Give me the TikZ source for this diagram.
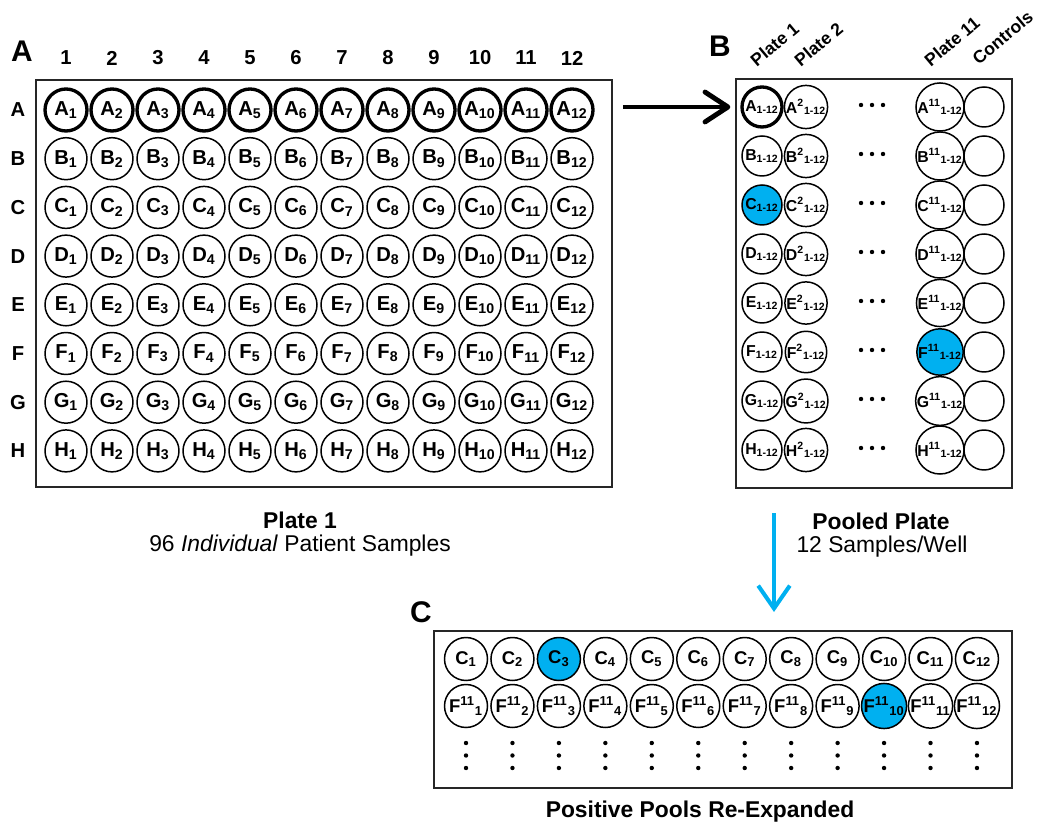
\documentclass[tikz,border=0pt]{standalone}
\usepackage{fontspec}
\setmainfont{Liberation Sans}
\usetikzlibrary{arrows.meta,calc,fit}
\definecolor{poolblue}{RGB}{0,176,240}
\tikzset{
  well/.style={circle, draw, line width=0.85pt, fill=white, minimum size=0.84cm, inner sep=0pt,
    font=\fontsize{11.5}{12}\selectfont\bfseries},
  thickwell/.style={well, line width=1.9pt},
  pwell/.style={well, minimum size=0.80cm, font=\fontsize{9}{10}\selectfont\bfseries},
  pthick/.style={pwell, line width=1.9pt},
  phit/.style={pwell, fill=poolblue},
  cwell/.style={well, minimum size=0.86cm, font=\fontsize{10.5}{12}\selectfont\bfseries},
  chit/.style={cwell, fill=poolblue},
  platebox/.style={draw=black!85, line width=1.1pt, inner sep=0pt},
  panel/.style={font=\fontsize{17}{18}\selectfont\bfseries},
  axislab/.style={font=\fontsize{11.5}{12}\selectfont\bfseries},
  headlab/.style={font=\fontsize{10}{11}\selectfont\bfseries, rotate=40, anchor=south west, inner sep=0pt},
  caption/.style={font=\fontsize{13}{14}\selectfont}
}

\begin{document}
\begin{tikzpicture}[x=0.02cm, y=-0.02cm]
		%%%%% START %%%%%
		\useasboundingbox (0,0) rectangle (1040,830);
		
		% plate 1
		\node[platebox, fit={(36,80) (612,487)}] (plateA) {};
		\node[panel] (labA) at (22,51) {A};
		\foreach \c in {1,...,12}
			\node[axislab] (num\c) at ({66+46*(\c-1)},58) {\c};
		\foreach \r [count=\i] in {A,...,H}
			\node[axislab] (row\r) at (18,{110+48.7*(\i-1)}) {\r};
		\foreach \c in {1,...,12}
			\node[thickwell] (A-A-\c) at ({66+46*(\c-1)},110) {A\textsubscript{\c}};
		\foreach \r [count=\i from 2] in {B,...,H}
			\foreach \c in {1,...,12}
				\node[well] (A-\r-\c) at ({66+46*(\c-1)},{110+48.7*(\i-1)}) {\r\textsubscript{\c}};
		
		\node[caption, font=\fontsize{13}{14}\selectfont\bfseries] (capA) at (300,520) {Plate 1};
		\node[caption] (capA2) at (300,546) {96 \textit{Individual} Patient Samples};
		
		% pooled plate
		\node[platebox, fit={(736,79) (1012,488)}] (plateB) {};
		\node[panel] (labB) at (720,46) {B};
		\node[headlab] (hd1) at (757,68) {Plate 1};
		\node[headlab] (hd2) at (801,68) {Plate 2};
		\node[headlab] (hd11) at (931,68) {Plate 11};
		\node[headlab] (hdc) at (979,66) {Controls};
		\foreach \r/\sa/\sb [count=\i] in {A/pthick/pwell, B/pwell/pwell, C/phit/pwell, D/pwell/pwell,
				E/pwell/pwell, F/pwell/phit, G/pwell/pwell, H/pwell/pwell}{
			\node[\sa] (B-\r-1) at (762,{107+49*(\i-1)}) {\r\textsubscript{1-12}};
			\node[pwell] (B-\r-2) at (806,{107+49*(\i-1)}) {\r\textsuperscript{2}\textsubscript{1-12}};
			\node[\sb] (B-\r-11) at (940,{107+49*(\i-1)}) {\r\textsuperscript{11}\textsubscript{1-12}};
			\node[pwell] (B-\r-c) at (984,{107+49*(\i-1)}) {};
			\foreach \dx in {-11,0,11}
				\fill (872+\dx,{105+49*(\i-1)}) circle (2.2);
		}
		
		\node[caption, font=\fontsize{13}{14}\selectfont\bfseries] (capB) at (881,521) {Pooled Plate};
		\node[caption] (capB2) at (882,547) {12 Samples/Well};
		
		% re-expanded pools
		\node[platebox, fit={(434,631) (1012,788)}] (plateC) {};
		\node[panel] (labC) at (421,612) {C};
		\foreach \c in {1,...,12}{
			\ifnum\c=3 \def\ws{chit}\else\def\ws{cwell}\fi
			\ifnum\c=10 \def\wf{chit}\else\def\wf{cwell}\fi
			\node[\ws] (C-C-\c) at ({466+46.45*(\c-1)},659) {C\textsubscript{\c}};
			\node[\wf] (C-F-\c) at ({466+46.45*(\c-1)},706) {F\textsuperscript{11}\textsubscript{\c}};
			\foreach \dy in {743,755.5,768}
				\fill ({466+46.45*(\c-1)},\dy) circle (2.2);
		}
		
		\node[caption, font=\fontsize{13}{14}\selectfont\bfseries] (capC) at (700,812) {Positive Pools Re-Expanded};
		
		% arrows
		\draw[line width=2.8pt, -{Straight Barb[length=13pt,width=17pt,round]}]
			($(plateA.east |- B-A-1)+(10,0)$) -- ($(B-A-1.west)+(-10,0)$);
		\coordinate (pooltop) at (774,513);
		\coordinate (pooltip) at (774,612);
		\draw[line width=2.3pt, poolblue, -{Straight Barb[length=13pt,width=18pt]}] (pooltop) -- (pooltip);
		
		%%%%% END %%%%%
\end{tikzpicture}
\end{document}
